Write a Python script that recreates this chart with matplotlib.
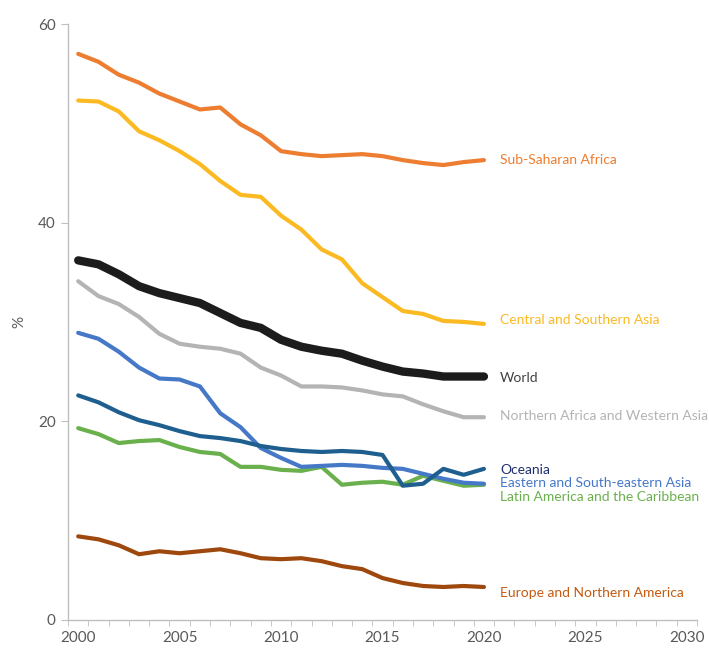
import matplotlib.pyplot as plt
import numpy as np

plt.rcParams["font.family"] = ["Lato", "DejaVu Sans"]

years = list(range(2000, 2021))

sub_saharan = [57.0, 56.2, 54.9, 54.1, 53.0, 52.2, 51.4, 51.6, 49.9, 48.8, 47.2,
               46.9, 46.7, 46.8, 46.9, 46.7, 46.3, 46.0, 45.8, 46.1, 46.3]
central_southern = [52.3, 52.2, 51.2, 49.2, 48.3, 47.2, 45.9, 44.2, 42.8, 42.6, 40.7,
                    39.3, 37.3, 36.3, 33.9, 32.5, 31.1, 30.8, 30.1, 30.0, 29.8]
world = [36.2, 35.8, 34.8, 33.6, 32.9, 32.4, 31.9, 30.9, 29.9, 29.4, 28.2,
         27.5, 27.1, 26.8, 26.1, 25.5, 25.0, 24.8, 24.5, 24.5, 24.5]
n_africa_w_asia = [34.1, 32.6, 31.8, 30.5, 28.8, 27.8, 27.5, 27.3, 26.8, 25.4, 24.6,
                   23.5, 23.5, 23.4, 23.1, 22.7, 22.5, 21.7, 21.0, 20.4, 20.4]
e_se_asia = [28.9, 28.3, 27.0, 25.4, 24.3, 24.2, 23.5, 20.8, 19.4, 17.3, 16.3,
             15.4, 15.5, 15.6, 15.5, 15.3, 15.2, 14.7, 14.2, 13.8, 13.7]
oceania = [22.6, 21.9, 20.9, 20.1, 19.6, 19.0, 18.5, 18.3, 18.0, 17.5, 17.2,
           17.0, 16.9, 17.0, 16.9, 16.6, 13.5, 13.7, 15.2, 14.6, 15.2]
latin_america = [19.3, 18.7, 17.8, 18.0, 18.1, 17.4, 16.9, 16.7, 15.4, 15.4, 15.1,
                 15.0, 15.4, 13.6, 13.8, 13.9, 13.6, 14.5, 14.0, 13.5, 13.6]
europe_n_america = [8.4, 8.1, 7.5, 6.6, 6.9, 6.7, 6.9, 7.1, 6.7, 6.2, 6.1,
                    6.2, 5.9, 5.4, 5.1, 4.2, 3.7, 3.4, 3.3, 3.4, 3.3]

# (values, line colour, label, label colour, label y, line width)
series = [
    (sub_saharan, "#ED7D31", "Sub-Saharan Africa", "#ED7D31", 46.3, 3.0),
    (central_southern, "#FBBA22", "Central and Southern Asia", "#FBBA22", 30.2, 3.0),
    (n_africa_w_asia, "#B4B4B4", "Northern Africa and Western Asia", "#B4B4B4", 20.5, 3.0),
    (europe_n_america, "#9E480E", "Europe and Northern America", "#C55A11", 2.7, 3.0),
    (latin_america, "#6AB04C", "Latin America and the Caribbean", "#6AB04C", 12.4, 3.0),
    (e_se_asia, "#4678C8", "Eastern and South-eastern Asia", "#4678C8", 13.8, 3.0),
    (oceania, "#1F5F8F", "Oceania", "#1F2F6F", 15.1, 3.0),
    (world, "#1C1C1C", "World", "#404040", 24.4, 6.0),
]

fig = plt.figure(figsize=(7.09, 6.51), dpi=100)
ax = fig.add_axes([0.096, 0.048, 0.887, 0.915])

for vals, col, label, lcol, ly, lw in series:
    ax.plot(years, vals, color=col, lw=lw, solid_capstyle="round", solid_joinstyle="round")
    ax.text(2020.8, ly, label, color=lcol, fontsize=10, va="center", ha="left")

ax.set_xlim(1999.5, 2030.5)
ax.set_ylim(0, 60)
ax.set_xticks(range(2000, 2031, 5))
ax.set_xticks(np.arange(1999.5, 2031, 1), minor=True)
ax.tick_params(axis="x", which="major", length=0, pad=8, labelsize=11, labelcolor="#595959")
ax.tick_params(axis="x", which="minor", length=4, color="#BFBFBF")
ax.set_yticks([0, 20, 40, 60])
ax.tick_params(axis="y", length=5, color="#BFBFBF", labelsize=11, labelcolor="#595959", pad=4)
ax.set_ylabel("%", color="#595959", fontsize=11, labelpad=8)

for side in ("top", "right"):
    ax.spines[side].set_visible(False)
for side in ("left", "bottom"):
    ax.spines[side].set_color("#BFBFBF")
    ax.spines[side].set_linewidth(1)

fig.savefig("out.png", dpi=100)
